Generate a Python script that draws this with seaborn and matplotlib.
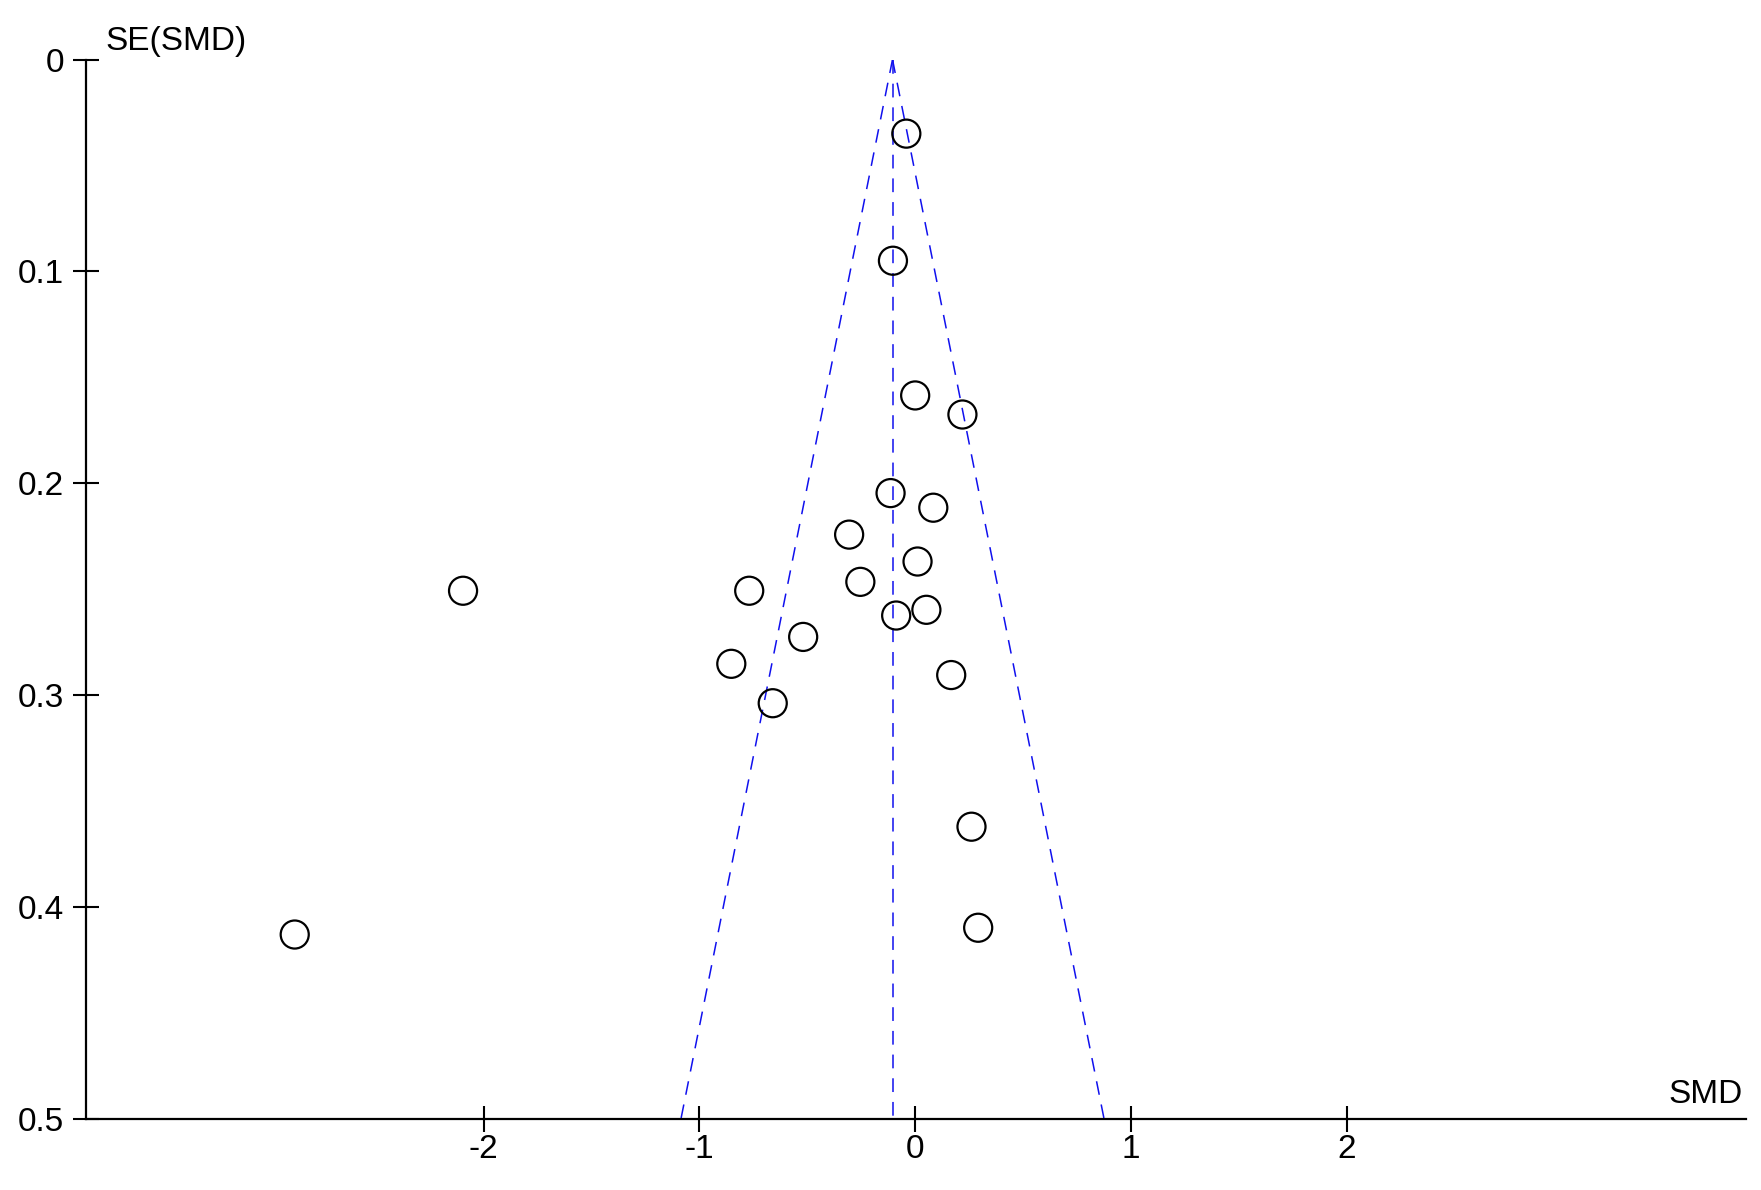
import numpy as np
import pandas as pd
import matplotlib
matplotlib.use("Agg")
import matplotlib.pyplot as plt
import seaborn as sns

# study effects (SMD) and their standard errors
smd = [-0.041, -0.103, 0.000, 0.219, -0.114, 0.084, -0.306, 0.011, -2.095, -0.769,
       -0.254, -0.088, 0.052, -0.519, -0.852, 0.167, -0.660, 0.261, 0.292, -2.875]
se = [0.035, 0.095, 0.1586, 0.1676, 0.2047, 0.2116, 0.2243, 0.237, 0.2508, 0.2508,
      0.2466, 0.2625, 0.2598, 0.2726, 0.2853, 0.2906, 0.3039, 0.3622, 0.4099, 0.4131]
pooled = -0.105
se_range = [0.0, 0.5]
x_ticks = [-2, -1, 0, 1, 2]
x_tick_labels = ["-2", "-1", "0", "1", "2"]
y_ticks = [0, 0.1, 0.2, 0.3, 0.4, 0.5]
y_tick_labels = ["0", "0.1", "0.2", "0.3", "0.4", "0.5"]

df = pd.DataFrame({"SMD": smd, "SE": se})

sns.set_style("white", {"xtick.bottom": True, "ytick.left": True,
                        "text.color": "black", "axes.labelcolor": "black"})
plt.rcParams["font.family"] = ["Liberation Sans", "DejaVu Sans"]
plt.rcParams["axes.unicode_minus"] = False

fig = plt.figure(figsize=(17.61, 11.9), dpi=100)
ax = fig.add_axes([0.0491, 0.0600, 0.9424, 0.8900])

# funnel: pooled estimate +/- 1.96 * SE
se_arr = np.array(se_range)
funnel = pd.DataFrame({
    "SE": np.concatenate([se_arr, se_arr, se_arr]),
    "x": np.concatenate([pooled - 1.96 * se_arr, [pooled, pooled], pooled + 1.96 * se_arr]),
    "line": ["lo", "lo", "mid", "mid", "hi", "hi"],
})
for name, part in funnel.groupby("line"):
    ax.plot(part["x"], part["SE"], color="#1010ee", lw=1.1, dashes=(9, 6.5))

sns.scatterplot(data=df, x="SMD", y="SE", ax=ax, marker="o", s=408,
                facecolors="none", edgecolor="black", linewidth=1.6, zorder=3)

ax.set_xlim(-3.84, 3.85)
ax.set_ylim(0.5, 0)
ax.set_xticks(x_ticks)
ax.set_xticklabels(x_tick_labels)
ax.set_yticks(y_ticks)
ax.set_yticklabels(y_tick_labels)
ax.set_xlabel("")
ax.set_ylabel("")

for side in ["top", "right"]:
    ax.spines[side].set_visible(False)
for side in ["left", "bottom"]:
    ax.spines[side].set_color("black")
    ax.spines[side].set_linewidth(1.6)

ax.tick_params(axis="both", direction="inout", length=18.7, width=1.5,
               colors="black", labelsize=24, bottom=True, left=True)
ax.tick_params(axis="x", pad=2)
ax.tick_params(axis="y", pad=7)

fig.text(105 / 1761, 1 - 50 / 1190, "SE(SMD)", fontsize=24, color="black",
         ha="left", va="baseline")
fig.text(1743 / 1761, 1 - 1103 / 1190, "SMD", fontsize=24, color="black",
         ha="right", va="baseline")

fig.savefig("out.png", dpi=100)
